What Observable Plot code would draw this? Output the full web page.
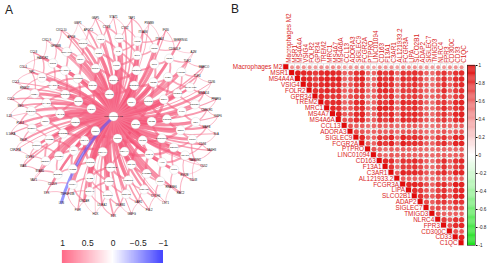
<!DOCTYPE html>
<html><head><meta charset="utf-8">
<script src="https://cdn.jsdelivr.net/npm/d3@7"></script>
<script src="https://cdn.jsdelivr.net/npm/@observablehq/plot@0.6"></script>
<style>
body{margin:0;background:#fff;}
#wrap{position:relative;width:490px;height:268px;overflow:hidden;background:#fff;font-family:"Liberation Sans",Arial,sans-serif;}
.abs{position:absolute;}
#wrap svg{max-width:none !important;}
.plab{position:absolute;font-size:12px;color:#222;line-height:1;}
</style></head><body>
<div id="wrap">
<div id="A" class="abs" style="left:0;top:0;width:228px;height:228px"></div>
<div id="Aleg" class="abs" style="left:0;top:226px;width:228px;height:42px"></div>
<div id="B" class="abs" style="left:222px;top:0;width:268px;height:268px"></div>
<div id="Bbar" class="abs" style="left:460px;top:0;width:30px;height:268px"></div>
<div class="plab" style="left:5px;top:4px">A</div>
<div class="plab" style="left:231px;top:3px">B</div>
</div>
<script>
// ---------- Panel A: network data ----------
const centerNode = "Macrophages M2";
const ring1Genes = ["CD163","MRC1","MSR1","VSIG4","FOLR2","C1QA"];
const ring2Genes = ["C1QB","C1QC","MS4A4A","MS4A6A","MS4A7","TREM2","GPR34","CCL13","ADORA3","SIGLEC9","FCGR2A"];
const ring3Genes = ["PTPRO","LINC01094","F13A1","C3AR1","AL121933.2","FCGR3A","LIPA","SLCO2B1","ADAP2","SIGLEC7","TMIGD3","NLRC4","FPR3","CD300C","CD33","CD14"];
const ring4Genes = ["CD68","CSF1R","AIF1","TYROBP","FCER1G","LAPTM5","CYBB","ITGB2","LILRB4","LILRB2","CD86","HLA-DRA","HLA-DPA1","HLA-DQA1","CD74","CTSS","LYZ","SPI1","IRF8","PLEK","MPEG1","LY86"];
const ring5Genes = ["CD4","CCR1","C5AR1","TLR7","TLR8","P2RY12","P2RY13","CX3CR1","SLC7A7","PILRA","SIRPB1","CD300A","CLEC7A","CLEC4A","CLEC10A","MNDA","FPR1","NCF2","NCKAP1L","DOCK2","IKZF1","PTPRC","LCP2","CD53","CD37","HCLS1","ARHGAP30","CORO1A"];
const ring6Genes = ["MAFB","CD84","SAMSN1","EVI2B","RNASE6","CYTH4","LAIR1","LILRB1","LILRA2","OSCAR","TNFSF13B","CD209","STAB1","LYVE1","SELP","PDK4","ME1","RBM47","NPL","HAVCR2","GPNMB","APOE","APOC1","CTSB","CTSZ","ITGAM","ITGAX","CD300LF","TLR2","TLR4","MS4A14","CMKLR1"];
const ring7Genes = ["IGSF6","SLA","SASH3","CD52","CD48","RAC2","LST1","FGL2","GMFG","BTK","HCK","FGR","LYN","SYK","VAV1","WAS","CSF2RA","IL10RA","IL18","CCL2","CCL3","CCL4","CCL8","CXCL9","CXCL10","GBP1","GBP5","STAT1","TAP1","PSMB9","IFI30","SERPING1","A2M","MARCO","CD36","PPARG"];

const ring1Corr = [0.92,0.9,0.88,0.91,0.87,0.89];
const ring2Corr = [0.88,0.9,0.86,0.85,0.87,0.84,0.82,0.8,0.83,0.86,0.85];
const ring3Corr = [0.84,0.8,0.86,0.83,0.78,0.85,0.82,0.84,0.81,0.79,0.77,0.8,0.83,0.82,0.85,0.86];
const ring4Corr = [0.82,0.8,0.78,0.81,0.79,0.77,0.8,0.76,0.78,0.75,0.79,0.74,0.73,0.76,0.78,0.8,0.72,0.77,0.75,0.74,0.79,0.76];
const ring5Corr = [0.74,0.72,0.76,0.7,0.73,0.68,0.71,0.69,0.75,0.72,0.7,0.73,0.71,0.68,0.7,0.74,0.72,0.69,0.71,0.73,0.7,0.72,0.68,0.71,0.74,0.69,0.7,0.72];
const ring6Corr = [0.66,0.64,0.68,0.62,0.65,0.67,0.63,0.66,0.64,0.69,0.62,0.65,0.67,0.63,0.66,0.68,0.64,0.62,0.65,0.67,0.63,0.66,0.64,0.68,0.62,0.65,0.67,0.63,0.66,0.64,0.69,0.65];
const ring7Corr = [0.6,0.58,0.62,0.56,0.59,0.61,0.57,0.6,0.58,0.63,0.55,0.6,-0.75,0.59,0.57,0.61,0.58,0.6,0.56,0.62,0.59,0.57,0.6,0.58,0.61,0.55,0.6,0.58,0.62,0.57,0.6,0.59,0.56,0.61,0.58,0.6];

const legendTicks = [1, 0.5, 0, -0.5, -1];

// ---------- Panel B: correlation matrix data ----------
const genesB = ["Macrophages M2","MSR1","MS4A4A","VSIG4","FOLR2","GPR34","TREM2","MRC1","MS4A7","MS4A6A","CCL13","ADORA3","SIGLEC9","FCGR2A","PTPRO","LINC01094","CD163","F13A1","C3AR1","AL121933.2","FCGR3A","LIPA","SLCO2B1","ADAP2","SIGLEC7","TMIGD3","NLRC4","FPR3","CD300C","CD33","C1QC"];
// row i holds correlations with genes i+1 .. end
const corrRows = [
[.45,.48,.46,.44,.42,.47,.45,.49,.46,.40,.43,.44,.47,.41,.39,.46,.44,.45,.40,.47,.45,.46,.43,.42,.41,.44,.43,.46,.45,.47],
[.92,.88,.85,.8,.87,.9,.89,.86,.66,.7,.84,.88,.62,.64,.87,.8,.86,.63,.85,.82,.86,.78,.65,.6,.75,.83,.68,.84,.86],
[.9,.86,.78,.88,.91,.9,.92,.64,.68,.85,.9,.6,.62,.88,.82,.87,.6,.86,.8,.88,.76,.62,.58,.72,.84,.66,.86,.88],
[.88,.82,.86,.9,.87,.88,.68,.7,.82,.86,.63,.66,.9,.86,.84,.64,.83,.8,.85,.75,.66,.6,.74,.85,.67,.83,.87],
[.84,.83,.89,.86,.85,.66,.69,.8,.84,.62,.65,.86,.88,.82,.62,.8,.78,.84,.72,.64,.62,.7,.86,.65,.8,.84],
[.86,.8,.82,.83,.62,.72,.78,.8,.6,.66,.8,.78,.84,.6,.78,.76,.82,.74,.62,.64,.7,.8,.62,.78,.82],
[.85,.86,.88,.64,.7,.86,.88,.6,.64,.84,.8,.9,.62,.88,.84,.86,.78,.66,.6,.76,.82,.66,.86,.88],
[.88,.85,.66,.68,.82,.86,.62,.66,.9,.88,.84,.64,.82,.8,.86,.74,.64,.6,.72,.86,.68,.82,.86],
[.92,.68,.7,.86,.9,.62,.64,.86,.8,.88,.62,.88,.84,.88,.78,.66,.6,.74,.84,.66,.88,.9],
[.7,.72,.86,.88,.64,.66,.84,.78,.88,.64,.88,.84,.86,.76,.68,.62,.74,.82,.66,.86,.88],
[.7,.64,.66,.58,.62,.68,.64,.66,.6,.64,.66,.68,.62,.58,.56,.62,.66,.6,.64,.66],
[.72,.7,.62,.64,.68,.66,.7,.6,.68,.7,.72,.66,.6,.58,.64,.7,.6,.68,.7],
[.88,.64,.66,.84,.78,.88,.62,.9,.82,.86,.8,.7,.62,.78,.84,.66,.88,.86],
[.66,.64,.86,.8,.9,.64,.92,.84,.86,.8,.68,.64,.78,.86,.66,.9,.88],
[.7,.64,.6,.66,.62,.66,.64,.66,.62,.6,.58,.62,.64,.6,.64,.66],
[.66,.62,.68,.64,.68,.66,.66,.64,.62,.6,.64,.66,.62,.66,.68],
[.88,.86,.64,.84,.82,.88,.78,.66,.6,.74,.86,.66,.84,.88],
[.82,.62,.8,.78,.84,.74,.64,.6,.7,.84,.64,.8,.84],
[.66,.9,.86,.88,.82,.7,.64,.8,.86,.68,.9,.88],
[.66,.64,.66,.62,.6,.58,.62,.64,.6,.66,.64],
[.88,.9,.84,.72,.64,.82,.86,.68,.92,.9],
[.86,.8,.7,.62,.78,.84,.66,.86,.88],
[.84,.72,.66,.8,.86,.68,.88,.9],
[.74,.66,.78,.82,.68,.84,.82],
[.68,.74,.7,.66,.76,.72],
[.7,.64,.62,.66,.64],
[.8,.7,.84,.8],
[.7,.86,.88],
[.7,.68],
[.9]
];
const colorbarTicks = [1,0.8,0.6,0.4,0.2,0,-0.2,-0.4,-0.6,-0.8,-1];

// ---------- Panel A ----------
const rings = [ring1Genes,ring2Genes,ring3Genes,ring4Genes,ring5Genes,ring6Genes,ring7Genes];
const ringCorr = [ring1Corr,ring2Corr,ring3Corr,ring4Corr,ring5Corr,ring6Corr,ring7Corr];
const ringRadius = [0.22,0.36,0.5,0.64,0.77,0.875,0.975];
const ringOffset = [20,8,3,12,4,7,0];
const ringCircled = [true,true,true,true,true,false,false];
const center = {name:centerNode, px:0, py:0, circled:true};
const nodes = [];
const ringNodes = rings.map((genes, r) => genes.map((g, k) => {
  const deg = ringOffset[r] + 360 * k / genes.length;
  const a = deg * Math.PI / 180;
  const n = {name:g, corr:ringCorr[r][k], deg, px:ringRadius[r]*Math.cos(a), py:ringRadius[r]*Math.sin(a), circled:ringCircled[r]};
  nodes.push(n);
  return n;
}));
// hub edges: centre to every gene
const hubEdges = nodes.map(n => ({s:center, t:n, corr:n.corr}));
// mesh edges: each gene to the two angularly closest genes of the inner ring
const angDiff = (a, b) => { const d = Math.abs(a - b) % 360; return Math.min(d, 360 - d); };
const meshEdges = [];
for (let r = 1; r < ringNodes.length; r++) {
  ringNodes[r].forEach(n => {
    if (n.corr < 0) return;
    const near = ringNodes[r-1].slice().sort((p, q) => angDiff(p.deg, n.deg) - angDiff(q.deg, n.deg)).slice(0, 2);
    near.forEach(p => meshEdges.push({s:p, t:n, corr:n.corr}));
  });
}
const netColor = {type:"linear", domain:[-1,0,1], range:["#1a1aff","#ffffff","#f0204e"]};
const fontF = "Liberation Sans";
const signFmt = d => (d < 0 ? "\u2212" : "") + Math.abs(d);
const ends = {x1:e=>e.s.px, y1:e=>e.s.py, x2:e=>e.t.px, y2:e=>e.t.py};

const plotA = Plot.plot({
  width:228, height:228,
  x:{domain:[-1,1], range:[6,220], axis:null},
  y:{domain:[-1,1], range:[14,218], axis:null},
  color:netColor,
  style:{background:"transparent", fontFamily:fontF},
  marks:[
    Plot.arrow(meshEdges, {...ends, bend:-20, headLength:0, stroke:"corr", strokeWidth:e=>0.6+7*(e.corr-0.55), strokeOpacity:0.55}),
    Plot.arrow(hubEdges.filter(e => e.corr > 0), {...ends, bend:-15, headLength:0, stroke:"corr", strokeWidth:e=>0.6+13*(e.corr-0.55), strokeOpacity:0.7}),
    Plot.arrow(hubEdges.filter(e => e.corr < 0), {...ends, bend:-15, headLength:0, stroke:"corr", strokeWidth:3, strokeOpacity:0.6}),
    Plot.dot([center, ...nodes.filter(n => n.circled)], {x:"px", y:"py", r:4.6, fill:"white", stroke:"#c8c8c8", strokeWidth:0.3}),
    Plot.text([center, ...nodes], {x:"px", y:"py", text:"name", fontSize:d=>d.circled?2.4:2.8, fill:"#111"})
  ]
});
document.getElementById("A").appendChild(plotA);

const legendSteps = d3.range(-1, 1, 0.01);
const legA = Plot.plot({
  width:228, height:42, marginTop:24, marginBottom:5, marginLeft:62, marginRight:65,
  x:{domain:[1,-1]},
  color:{type:"linear", domain:[-1,0,1], range:["#1a1aff","#ffffff","#ff4a6e"]},
  style:{background:"transparent", fontFamily:fontF},
  marks:[
    Plot.rect(legendSteps, {x1:d=>d, x2:d=>d+0.012, fill:d=>d}),
    Plot.axisX({anchor:"top", ticks:legendTicks, tickFormat:signFmt, tickSize:0, tickPadding:5, fontSize:8.5, label:null, fill:"#222"})
  ]
});
document.getElementById("Aleg").appendChild(legA);

// ---------- Panel B ----------
const corrColor = {type:"linear", domain:[-1,0,1], range:["#1ee01e","#ffffff","#e00a0a"]};
const labelRed = "#d91c1c";
const upperCells = [], offDiag = [], diagCells = [];
genesB.forEach((row, i) => {
  diagCells.push({row, col:row, v:1});
  upperCells.push({row, col:row});
  (corrRows[i] || []).forEach((v, k) => {
    const col = genesB[i + 1 + k];
    upperCells.push({row, col});
    offDiag.push({row, col, v});
  });
});
const plotB = Plot.plot({
  width:268, height:268, marginLeft:60.8, marginRight:26, marginTop:63.8, marginBottom:22.4,
  x:{domain:genesB, padding:0, round:false, axis:null},
  y:{domain:genesB, padding:0, round:false, axis:null},
  color:corrColor,
  r:{domain:[0,1], range:[0,2.95]},
  style:{background:"transparent", fontFamily:fontF},
  marks:[
    Plot.cell(upperCells, {x:"col", y:"row", fill:"white", stroke:"#d0d0d0", strokeWidth:0.45, inset:0}),
    Plot.dot(offDiag, {x:"col", y:"row", r:d=>Math.abs(d.v), fill:"v"}),
    Plot.cell(diagCells, {x:"col", y:"row", fill:"v", inset:0.4}),
    Plot.text(genesB, {x:d=>d, y:d=>d, dx:-4, textAnchor:"end", fontSize:6.4, fill:labelRed}),
    Plot.text(genesB, {x:d=>d, frameAnchor:"top", dy:-1.5, rotate:-90, textAnchor:"start", fontSize:6.4, fill:labelRed})
  ]
});
document.getElementById("B").appendChild(plotB);

const cbSteps = d3.range(-1, 1, 0.01);
const barB = Plot.plot({
  width:30, height:268, marginLeft:7, marginRight:15, marginTop:65, marginBottom:23,
  y:{domain:[-1,1]},
  color:corrColor,
  style:{background:"transparent", fontFamily:fontF},
  marks:[
    Plot.rect(cbSteps, {y1:d=>d, y2:d=>d+0.012, fill:d=>d}),
    Plot.frame({stroke:"#222", strokeWidth:0.6}),
    Plot.axisY({anchor:"right", ticks:colorbarTicks, tickSize:1.5, tickPadding:1.5, fontSize:4.6, label:null, tickFormat:d=>String(d), fill:"#222"})
  ]
});
document.getElementById("Bbar").appendChild(barB);
</script>
</body></html>
